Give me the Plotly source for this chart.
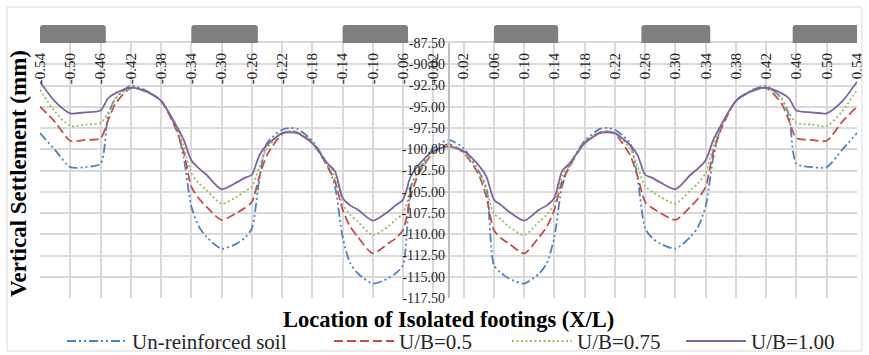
import plotly.graph_objects as go

# ---------------- data ----------------
x_pos = [-0.54, -0.52, -0.50, -0.48, -0.46, -0.45, -0.44, -0.42, -0.40, -0.38,
         -0.36, -0.35, -0.34, -0.33, -0.32, -0.30, -0.28, -0.27, -0.26, -0.25,
         -0.24, -0.22, -0.21, -0.20, -0.18, -0.16, -0.15, -0.14, -0.13, -0.12,
         -0.10, -0.08, -0.07, -0.06, -0.05, -0.04, -0.02, 0.00,
         0.02, 0.04, 0.05, 0.06, 0.07, 0.08, 0.10, 0.12, 0.13, 0.14,
         0.15, 0.16, 0.18, 0.20, 0.21, 0.22, 0.24, 0.25, 0.26, 0.27,
         0.28, 0.30, 0.32, 0.33, 0.34, 0.35, 0.36, 0.38, 0.40, 0.42,
         0.44, 0.45, 0.46, 0.48, 0.50, 0.52, 0.54]

unreinforced = [-98.1, -100.1, -102.1, -102.1, -101.7, -96.0, -94.0, -92.55, -93.1, -94.3,
                -97.5, -101.0, -106.7, -109.1, -110.3, -111.7, -111.1, -110.5, -109.3, -103.5,
                -99.3, -97.7, -97.5, -97.6, -99.0, -101.9, -104.4, -110.3, -113.4, -114.6,
                -115.8, -115.2, -114.6, -113.6, -104.5, -102.6, -99.9, -98.9,
                -99.9, -102.6, -104.5, -113.6, -114.6, -115.2, -115.8, -114.6, -113.4, -110.3,
                -104.4, -101.9, -99.0, -97.6, -97.5, -97.7, -99.3, -103.5, -109.3, -110.5,
                -111.1, -111.7, -110.3, -109.1, -106.7, -101.0, -97.5, -94.3, -93.1, -92.55,
                -94.0, -96.0, -101.7, -102.1, -102.1, -100.1, -98.1]

ub_050 = [-95.0, -96.8, -99.0, -98.9, -98.7, -96.6, -94.6, -92.8, -93.2, -94.3,
          -97.7, -100.3, -104.4, -105.8, -106.75, -108.3, -107.5, -106.95, -106.2, -103.2,
          -100.7, -98.2, -97.9, -98.0, -99.2, -102.05, -103.8, -107.1, -109.1, -110.3,
          -112.25, -111.1, -110.5, -109.5, -105.6, -103.0, -100.4, -99.4,
          -100.4, -103.0, -105.6, -109.5, -110.5, -111.1, -112.25, -110.3, -109.1, -107.1,
          -103.8, -102.05, -99.2, -98.0, -97.9, -98.2, -100.7, -103.2, -106.2, -106.95,
          -107.5, -108.3, -106.75, -105.8, -104.4, -100.3, -97.7, -94.3, -93.2, -92.8,
          -94.6, -96.6, -98.7, -98.9, -99.0, -96.8, -95.0]

ub_075 = [-93.0, -95.6, -97.26, -97.1, -96.9, -95.7, -94.0, -92.8, -93.2, -94.3,
          -97.4, -99.7, -102.8, -104.0, -104.8, -106.4, -105.6, -105.0, -104.4, -102.05,
          -99.9, -98.1, -97.9, -98.0, -99.2, -101.85, -103.2, -106.4, -107.7, -108.5,
          -110.1, -109.1, -108.3, -107.55, -104.8, -102.6, -100.4, -99.5,
          -100.4, -102.6, -104.8, -107.55, -108.3, -109.1, -110.1, -108.5, -107.7, -106.4,
          -103.2, -101.85, -99.2, -98.0, -97.9, -98.1, -99.9, -102.05, -104.4, -105.0,
          -105.6, -106.4, -104.8, -104.0, -102.8, -99.7, -97.4, -94.3, -93.2, -92.8,
          -94.0, -95.7, -96.9, -97.1, -97.26, -95.6, -93.0]

ub_100 = [-92.05, -94.4, -95.77, -95.65, -95.45, -94.0, -93.4, -92.75, -93.2, -94.3,
          -97.2, -98.9, -101.3, -102.25, -103.0, -104.7, -103.9, -103.4, -103.0, -100.7,
          -99.5, -98.1, -98.0, -98.1, -99.3, -101.65, -102.6, -105.7, -106.6, -107.1,
          -108.4, -107.35, -106.6, -105.9, -103.2, -101.9, -100.2, -99.7,
          -100.2, -101.9, -103.2, -105.9, -106.6, -107.35, -108.4, -107.1, -106.6, -105.7,
          -102.6, -101.65, -99.3, -98.1, -98.0, -98.1, -99.5, -100.7, -103.0, -103.4,
          -103.9, -104.7, -103.0, -102.25, -101.3, -98.9, -97.2, -94.3, -93.2, -92.75,
          -93.4, -94.0, -95.45, -95.65, -95.77, -94.4, -92.05]

series_names = ["Un-reinforced soil", "U/B=0.5", "U/B=0.75", "U/B=1.00"]

x_tick_vals = [-0.54, -0.50, -0.46, -0.42, -0.38, -0.34, -0.30, -0.26, -0.22, -0.18,
               -0.14, -0.10, -0.06, -0.02, 0.02, 0.06, 0.10, 0.14, 0.18, 0.22,
               0.26, 0.30, 0.34, 0.38, 0.42, 0.46, 0.50, 0.54]
x_tick_text = ["-0.54", "-0.50", "-0.46", "-0.42", "-0.38", "-0.34", "-0.30", "-0.26", "-0.22", "-0.18",
               "-0.14", "-0.10", "-0.06", "-0.02", "0.02", "0.06", "0.10", "0.14", "0.18", "0.22",
               "0.26", "0.30", "0.34", "0.38", "0.42", "0.46", "0.50", "0.54"]

y_tick_vals = [-87.5, -90.0, -92.5, -95.0, -97.5, -100.0, -102.5, -105.0, -107.5,
               -110.0, -112.5, -115.0, -117.5]
y_tick_text = ["-87.50", "-90.00", "-92.50", "-95.00", "-97.50", "-100.00", "-102.50",
               "-105.00", "-107.50", "-110.00", "-112.50", "-115.00", "-117.50"]

footing_start = [-0.54, -0.34, -0.14, 0.06, 0.255, 0.455]
footing_end = [-0.453, -0.252, -0.0535, 0.145, 0.346, 0.543]

# ---------------- figure ----------------
FONT = "Liberation Serif, Times New Roman, serif"
TXT = "#262626"
styles = [
    dict(color="#4F81BD", dash="9px,3px,2px,3px,2px,3px", width=1.8),
    dict(color="#C0504D", dash="9px,4px", width=1.8),
    dict(color="#9BBB59", dash="2px,2.5px", width=1.8),
    dict(color="#8064A2", dash="solid", width=1.8),
]
legend_ids = ["legend", "legend2", "legend3", "legend4"]
legend_x_px = [62, 329, 507, 681]

fig = go.Figure()
for name, ys, st, lg in zip(series_names, [unreinforced, ub_050, ub_075, ub_100], styles, legend_ids):
    fig.add_trace(go.Scatter(
        x=x_pos, y=ys, mode="lines", name=name, legend=lg,
        line=dict(color=st["color"], dash=st["dash"], width=st["width"],
                  shape="spline", smoothing=0.7),
    ))

# invisible carrier trace for the label axis (top tick labels hanging inside the plot)
fig.add_trace(go.Scatter(x=x_tick_vals, y=y_tick_vals[:1] * len(x_tick_vals), xaxis="x2",
                         mode="lines", opacity=0, showlegend=False, hoverinfo="skip"))

shapes = []
rx, ry = 0.004, 0.012
y0f, y1f = 1.0, 1.0706
for a, b in zip(footing_start, footing_end):
    path = (f"M{a},{y0f} L{b},{y0f} L{b},{y1f - ry} Q{b},{y1f} {b - rx},{y1f} "
            f"L{a + rx},{y1f} Q{a},{y1f} {a},{y1f - ry} Z")
    shapes.append(dict(type="path", xref="x", yref="paper", path=path,
                       fillcolor="#7F7F7F", line=dict(width=0), layer="above"))
# outer chart border
shapes.append(dict(type="rect", xref="paper", yref="paper",
                   x0=-0.0404, x1=1.006, y0=-0.2078, y1=1.1412,
                   line=dict(color="#D9D9D9", width=1), fillcolor="rgba(0,0,0,0)"))

legend_common = dict(orientation="h", xref="container", yref="container",
                     y=0.0385, yanchor="middle", xanchor="left",
                     font=dict(size=21, family=FONT, color=TXT),
                     bgcolor="rgba(0,0,0,0)", borderwidth=0, itemwidth=60,
                     tracegroupgap=0)

layout_legends = {}
for lg, px in zip(legend_ids, legend_x_px):
    layout_legends[lg] = dict(legend_common, x=px / 869)

fig.update_layout(
    width=869, height=355,
    margin=dict(l=40, r=12, t=43, b=57, autoexpand=False),
    paper_bgcolor="white", plot_bgcolor="white",
    font=dict(family=FONT, color=TXT),
    showlegend=True,
    shapes=shapes,
    xaxis=dict(range=[-0.54, 0.54], side="top", tickmode="array",
               tickvals=x_tick_vals, showticklabels=False, ticks="",
               showgrid=True, gridcolor="#D9D9D9", gridwidth=1.5,
               showline=True, linecolor="#D9D9D9", linewidth=1.5,
               zeroline=False),
    xaxis2=dict(range=[-0.54, 0.54], overlaying="x", anchor="free", position=0.976,
                side="bottom", tickmode="array", tickvals=x_tick_vals, ticktext=x_tick_text,
                tickangle=-90, ticks="", showgrid=False, showline=False, zeroline=False,
                tickfont=dict(size=15, family=FONT, color=TXT)),
    yaxis=dict(range=[-117.5, -87.5], anchor="free", position=0.5,
               tickmode="array", tickvals=y_tick_vals, ticktext=y_tick_text,
               ticks="", tickfont=dict(size=14, family=FONT, color=TXT),
               showgrid=True, gridcolor="#D9D9D9", gridwidth=1.5,
               showline=True, linecolor="#BFBFBF", linewidth=1.5,
               zeroline=False),
    annotations=[
        dict(text="<b>Location of Isolated footings (X/L)</b>", xref="paper", yref="paper",
             x=0.5, y=-0.086, xanchor="center", yanchor="middle", showarrow=False,
             font=dict(size=22.5, family=FONT, color="#000000")),
        dict(text="<b>Vertical Settlement (mm)</b>", xref="paper", yref="paper",
             x=-0.027, y=0.49, xanchor="center", yanchor="middle", showarrow=False,
             textangle=-90, font=dict(size=23, family=FONT, color="#000000")),
    ],
    **layout_legends,
)

fig.write_html(
    "out.html",
    config={"displayModeBar": False},
    post_script="document.body.style.margin='0';document.body.style.overflow='hidden';",
)
